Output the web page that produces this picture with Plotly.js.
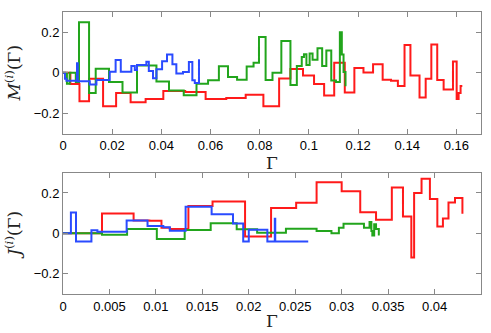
<!DOCTYPE html>
<html>
<head>
<meta charset="utf-8">
<script src="https://cdn.plot.ly/plotly-3.0.1.min.js"></script>
<style>
  html, body { margin: 0; padding: 0; background: #fff; }
  #chart { width: 491px; height: 333px; }
</style>
</head>
<body>
<div id="chart"></div>
<script>
// top panel: M^(i)(Gamma), step curves
const mRedX = [0, 0.003, 0.0067, 0.0106, 0.0163, 0.0216, 0.0275, 0.0336, 0.0408, 0.0497, 0.058, 0.0664, 0.0743, 0.0815, 0.0879, 0.0925, 0.0976, 0.1021, 0.1062, 0.1103, 0.1146, 0.1185, 0.1222, 0.1261, 0.13, 0.1334, 0.1362, 0.1389, 0.1413, 0.145, 0.1475, 0.1498, 0.1522, 0.1548, 0.1586, 0.1601, 0.1609, 0.1617, 0.1624];
const mRedY = [0, -0.055, -0.14, -0.03, -0.165, -0.1, -0.145, -0.13, -0.09, -0.095, -0.13, -0.124, -0.108, -0.165, -0.028, 0.018, -0.014, -0.055, -0.112, 0.05, -0.098, 0.023, 0.001, 0.042, -0.035, -0.04, -0.065, 0.137, -0.014, -0.122, -0.03, 0.14, -0.036, -0.082, 0.056, -0.13, -0.1, -0.065, -0.065];

const mBlueX = [0, 0.0008, 0.0014, 0.0057, 0.006, 0.0109, 0.0136, 0.019, 0.0214, 0.0235, 0.0278, 0.0292, 0.0301, 0.0339, 0.0349, 0.0366, 0.038, 0.0403, 0.0423, 0.0445, 0.0461, 0.0488, 0.0512, 0.0526, 0.0536, 0.0553];
const mBlueY = [0, -0.03, -0.04, 0.047, -0.042, -0.058, -0.036, 0.005, 0.063, 0.005, 0.033, 0.014, 0.038, 0.055, 0.009, -0.027, 0.017, 0.057, 0.09, 0.042, -0.004, 0.004, 0.053, -0.037, -0.05, 0.067];

const mGreenX = [0, 0.0016, 0.0027, 0.0052, 0.0065, 0.0106, 0.0133, 0.0187, 0.0242, 0.0301, 0.038, 0.0431, 0.0491, 0.0543, 0.059, 0.0634, 0.0671, 0.0708, 0.0747, 0.0775, 0.0797, 0.0824, 0.0852, 0.0888, 0.0925, 0.0951, 0.0971, 0.098, 0.099, 0.1003, 0.1015, 0.1035, 0.1054, 0.1071, 0.1091, 0.111, 0.1126, 0.1134, 0.1141, 0.1149, 0.1153];
const mGreenY = [0, -0.054, 0, -0.046, 0.25, -0.1, 0.02, -0.046, -0.098, 0.036, -0.043, -0.087, -0.111, -0.054, -0.037, 0.032, -0.021, -0.034, 0.031, 0.05, 0.177, -0.036, 0.0, 0.157, -0.06, 0.033, 0.078, 0.091, 0.038, 0.095, 0.064, 0.121, 0.034, 0.11, -0.038, -0.045, 0.2, 0.09, 0.004, -0.062, -0.062];

// bottom panel: J^(i)(Gamma)
const jRedX = [0, 0.0042, 0.0076, 0.0093, 0.0106, 0.0115, 0.0135, 0.0161, 0.0196, 0.0224, 0.0251, 0.0273, 0.03, 0.032, 0.0337, 0.0354, 0.0366, 0.0375, 0.0378, 0.0386, 0.0395, 0.0403, 0.0409, 0.0415, 0.0422, 0.043];
const jRedY = [0, 0.098, 0.064, 0.062, 0.028, 0.022, 0.136, 0.158, -0.016, 0.126, 0.152, 0.253, 0.208, 0.105, 0.068, 0.227, 0.084, -0.12, 0.2, 0.27, 0.17, 0.034, 0.074, 0.153, 0.175, 0.097];

const jBlueX = [0, 0.00085, 0.0014, 0.00306, 0.0037, 0.00685, 0.0091, 0.0108, 0.0115, 0.0132, 0.016, 0.0183, 0.0194, 0.02, 0.022, 0.0228, 0.02285, 0.0264];
const jBlueY = [0, 0.103, -0.04, 0.015, 0.008, 0.064, 0.037, 0.03, 0.013, 0.132, 0.095, 0.049, -0.04, 0.018, -0.04, 0.072, -0.04, -0.04];

const jGreenX = [0, 0.0042, 0.0069, 0.0101, 0.0131, 0.0159, 0.0187, 0.0209, 0.024, 0.0273, 0.0289, 0.0297, 0.0302, 0.0324, 0.033, 0.0332, 0.0333, 0.0335, 0.0337, 0.034, 0.0341];
const jGreenY = [0, -0.007, 0.022, -0.028, 0.017, 0.05, 0.02, 0.003, 0.023, 0.012, 0.0, 0.028, 0.048, 0.028, 0.056, 0.012, -0.01, 0.045, 0.022, -0.006, -0.006];

const topTicks = [0, 0.02, 0.04, 0.06, 0.08, 0.1, 0.12, 0.14, 0.16];
const botTicks = [0, 0.005, 0.01, 0.015, 0.02, 0.025, 0.03, 0.035, 0.04];
const yTicks = [-0.2, 0, 0.2];

const red = '#ff1a1a', blue = '#2a4bff', green = '#22a51c';

function step(x, y, color, xa, ya) {
    return {x, y, xaxis: xa, yaxis: ya, type: 'scatter', mode: 'lines',
        line: {shape: 'hv', color, width: 2}, showlegend: false, hoverinfo: 'skip'};
}

const data = [
    step(mRedX, mRedY, red, 'x', 'y'),
    step(mGreenX, mGreenY, green, 'x', 'y'),
    step(mBlueX, mBlueY, blue, 'x', 'y'),
    step(jRedX, jRedY, red, 'x2', 'y2'),
    step(jGreenX, jGreenY, green, 'x2', 'y2'),
    step(jBlueX, jBlueY, blue, 'x2', 'y2'),
];

const tickFont = {family: 'Liberation Sans, Arial, sans-serif', size: 13, color: '#000'};
const titleFont = {family: 'DejaVu Serif, Liberation Serif, serif', size: 17, color: '#222'};

function xax(range, ticks, anchor) {
    return {range, anchor, tickvals: ticks, ticks: 'inside', ticklen: 5, tickcolor: '#888',
        showline: true, linecolor: '#888', linewidth: 1, mirror: 'ticks', zeroline: false,
        showgrid: false, tickfont: tickFont,
        title: {text: 'Γ', font: titleFont, standoff: 2}};
}
function yax(domain, anchor, label) {
    return {range: [-0.3, 0.3], domain, anchor, tickvals: yTicks, ticks: 'inside', ticklen: 5,
        tickcolor: '#888', showline: true, linecolor: '#888', linewidth: 1, mirror: 'ticks',
        zeroline: false, showgrid: false, tickfont: tickFont,
        title: {text: label, font: titleFont, standoff: 8}};
}

const layout = {
    width: 491, height: 333,
    margin: {l: 63, r: 10, t: 12, b: 39},
    paper_bgcolor: '#fff', plot_bgcolor: '#fff',
    xaxis: xax([0, 0.17], topTicks, 'y'),
    yaxis: yax([0.569, 1], 'x', '<i>M</i><sup>(<i>i</i>)</sup>(Γ)'),
    xaxis2: xax([0, 0.045], botTicks, 'y2'),
    yaxis2: yax([0, 0.43], 'x2', '<i>J</i><sup>(<i>i</i>)</sup>(Γ)'),
    hovermode: false,
};

Plotly.newPlot('chart', data, layout, {staticPlot: true});
</script>
</body>
</html>
